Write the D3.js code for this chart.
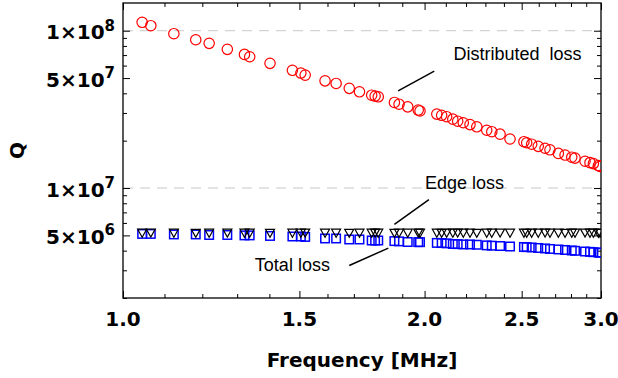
<!DOCTYPE html>
<html><head><meta charset="utf-8">
<script src="https://cdn.jsdelivr.net/npm/d3@7"></script>
<style>body{margin:0;background:#fff}svg{display:block}</style>
</head><body><svg id="c" width="618" height="378"></svg>
<script>
const frequency = [1.045,1.066,1.124,1.182,1.219,1.271,1.322,1.338,1.402,1.476,
  1.505,1.520,1.591,1.632,1.682,1.722,1.771,1.785,1.798,1.866,
  1.886,1.924,1.971,1.979,2.057,2.080,2.104,2.134,2.158,2.186,
  2.220,2.255,2.307,2.334,2.379,2.434,2.513,2.529,2.558,2.597,
  2.638,2.668,2.720,2.762,2.805,2.826,2.892,2.925,2.948,2.982,2.993];
const distributedQ = [1.131e8,1.076e8,9.57e7,8.76e7,8.31e7,7.61e7,7.07e7,6.83e7,6.20e7,5.60e7,
  5.38e7,5.22e7,4.80e7,4.62e7,4.30e7,4.09e7,3.89e7,3.84e7,3.80e7,3.50e7,
  3.41e7,3.28e7,3.13e7,3.09e7,2.95e7,2.90e7,2.84e7,2.74e7,2.66e7,2.60e7,
  2.53e7,2.45e7,2.33e7,2.28e7,2.20e7,2.05e7,1.97e7,1.94e7,1.90e7,1.84e7,
  1.79e7,1.75e7,1.66e7,1.62e7,1.57e7,1.55e7,1.48e7,1.45e7,1.43e7,1.39e7,1.37e7];
const edgeQ = [5.20e6,5.21e6,5.20e6,5.19e6,5.20e6,5.21e6,5.20e6,5.20e6,5.19e6,5.20e6,
  5.20e6,5.21e6,5.20e6,5.20e6,5.19e6,5.20e6,5.20e6,5.21e6,5.20e6,5.19e6,
  5.20e6,5.20e6,5.21e6,5.20e6,5.20e6,5.19e6,5.20e6,5.20e6,5.21e6,5.20e6,
  5.20e6,5.19e6,5.20e6,5.20e6,5.21e6,5.20e6,5.20e6,5.19e6,5.20e6,5.20e6,
  5.21e6,5.20e6,5.20e6,5.19e6,5.20e6,5.20e6,5.21e6,5.20e6,5.20e6,5.19e6,5.20e6];
const totalQ = [5.11e6,5.11e6,5.07e6,5.07e6,5.03e6,5.03e6,5.00e6,5.00e6,4.96e6,4.92e6,
  4.92e6,4.89e6,4.78e6,4.78e6,4.71e6,4.71e6,4.64e6,4.64e6,4.64e6,4.60e6,
  4.58e6,4.54e6,4.53e6,4.53e6,4.48e6,4.47e6,4.45e6,4.41e6,4.40e6,4.38e6,
  4.38e6,4.36e6,4.32e6,4.30e6,4.28e6,4.25e6,4.22e6,4.21e6,4.19e6,4.16e6,
  4.13e6,4.10e6,4.07e6,4.04e6,4.01e6,3.99e6,3.95e6,3.93e6,3.91e6,3.89e6,3.88e6];

const xMajorTicks = [1.0,1.5,2.0,2.5,3.0];
const xMinorTicks = [1.1,1.2,1.3,1.4,1.6,1.7,1.8,1.9,2.1,2.2,2.3,2.4,2.6,2.7,2.8,2.9];
const yMajorTicks = [5e6,1e7,5e7,1e8];
const yTickMantissa = ["5","1","5","1"];
const yTickExponent = ["6","7","7","8"];
const yMinorTicks = [2e6,3e6,4e6,6e6,7e6,8e6,9e6,2e7,3e7,4e7,6e7,7e7,8e7,9e7];
const gridValues = [1e7,1e8];

// annotation anchors in data coordinates (frequency, Q)
const annotationText = ["Distributed  loss","Edge loss","Total loss"];
const annotationTextPos = [[2.137,6.51e7],[2.002,9.81e6],[1.354,2.99e6]];
const annotationLineFrom = [[1.882,4.15e7],[1.866,5.87e6],[1.682,3.22e6]];
const annotationLineTo = [[2.045,5.54e7],[2.020,8.44e6],[1.840,4.15e6]];

const W = 618, H = 378;
const m = {left:123, right:17, top:3, bottom:80};
const x = d3.scaleLog().domain([1,3]).range([m.left, W - m.right]);
const y = d3.scaleLog().domain([2e6,1.5e8]).range([H - m.bottom, m.top]);

const svg = d3.select("#c");
const boldFont = "'DejaVu Sans', sans-serif";
const normFont = "'Liberation Sans', Arial, sans-serif";

// grid lines
svg.append("g").selectAll("line").data(gridValues).join("line")
  .attr("x1", x.range()[0]).attr("x2", x.range()[1])
  .attr("y1", d => y(d)).attr("y2", d => y(d))
  .attr("stroke", "#c8c8c8").attr("stroke-width", 1).attr("stroke-dasharray", "10,7");

// axes ticks (inward)
function tickAxis(axisFn, scale, vals, size, transform) {
  const g = svg.append("g").attr("transform", transform)
    .call(axisFn(scale).tickValues(vals).tickSize(size).tickFormat(""));
  g.select(".domain").remove();
  g.selectAll(".tick line").attr("stroke", "#000").attr("stroke-width", 1);
}
const x0 = x.range()[0], x1 = x.range()[1], yb = y.range()[0], yt = y.range()[1];
tickAxis(d3.axisBottom, x, xMajorTicks, -7, `translate(0,${yb})`);
tickAxis(d3.axisBottom, x, xMinorTicks, -4, `translate(0,${yb})`);
tickAxis(d3.axisTop, x, xMajorTicks, -7, `translate(0,${yt})`);
tickAxis(d3.axisTop, x, xMinorTicks, -4, `translate(0,${yt})`);
tickAxis(d3.axisLeft, y, yMajorTicks, -7, `translate(${x0},0)`);
tickAxis(d3.axisLeft, y, yMinorTicks, -4, `translate(${x0},0)`);
tickAxis(d3.axisRight, y, yMajorTicks, -7, `translate(${x1},0)`);
tickAxis(d3.axisRight, y, yMinorTicks, -4, `translate(${x1},0)`);

// frame
svg.append("rect").attr("x", x0).attr("y", yt).attr("width", x1 - x0).attr("height", yb - yt)
  .attr("fill", "none").attr("stroke", "#000").attr("stroke-width", 1.3);

// x tick labels
svg.append("g").selectAll("text").data(xMajorTicks).join("text")
  .attr("x", d => x(d)).attr("y", yb + 28)
  .attr("text-anchor", "middle")
  .attr("font-family", boldFont).attr("font-weight", "bold").attr("font-size", 20)
  .text(d => d.toFixed(1));

// y tick labels
const yl = svg.append("g").selectAll("text").data(yMajorTicks).join("text")
  .attr("x", x0 - 8).attr("y", d => y(d) + 8.5)
  .attr("text-anchor", "end")
  .attr("font-family", boldFont).attr("font-weight", "bold").attr("font-size", 20);
yl.append("tspan").text((d, i) => yTickMantissa[i] + "\u00d710");
yl.append("tspan").attr("dy", -8.5).attr("font-size", 15).text((d, i) => yTickExponent[i]);

// axis titles
svg.append("text").attr("x", (x0 + x1) / 2).attr("y", 367)
  .attr("text-anchor", "middle").attr("font-family", boldFont).attr("font-weight", "bold")
  .attr("font-size", 20).text("Frequency [MHz]");
svg.append("text").attr("transform", `translate(24,${(yt + yb) / 2}) rotate(-90)`)
  .attr("text-anchor", "middle").attr("font-family", boldFont).attr("font-weight", "bold")
  .attr("font-size", 20).text("Q");

// data
svg.append("defs").append("clipPath").attr("id", "clip")
  .append("rect").attr("x", x0).attr("y", yt).attr("width", x1 - x0).attr("height", yb - yt);
const plot = svg.append("g").attr("clip-path", "url(#clip)");

plot.append("g").selectAll("circle").data(frequency).join("circle")
  .attr("cx", d => x(d)).attr("cy", (d, i) => y(distributedQ[i])).attr("r", 5.2)
  .attr("fill", "none").attr("stroke", "#ff0000").attr("stroke-width", 1.2);

const sq = 8.5;
plot.append("g").selectAll("rect").data(frequency).join("rect")
  .attr("x", d => x(d) - sq / 2).attr("y", (d, i) => y(totalQ[i]) - sq / 2)
  .attr("width", sq).attr("height", sq)
  .attr("fill", "none").attr("stroke", "#0000ff").attr("stroke-width", 1.5);

plot.append("g").selectAll("path").data(frequency).join("path")
  .attr("transform", (d, i) => `translate(${x(d)},${y(edgeQ[i])})`)
  .attr("d", "M-4.5,-3.5L4.5,-3.5L0,4.5Z")
  .attr("fill", "none").attr("stroke", "#000").attr("stroke-width", 1.2);

// annotations
const ann = svg.append("g");
ann.selectAll("line").data(annotationText).join("line")
  .attr("x1", (d, i) => x(annotationLineFrom[i][0])).attr("y1", (d, i) => y(annotationLineFrom[i][1]))
  .attr("x2", (d, i) => x(annotationLineTo[i][0])).attr("y2", (d, i) => y(annotationLineTo[i][1]))
  .attr("stroke", "#000").attr("stroke-width", 1.5);
ann.selectAll("text").data(annotationText).join("text")
  .attr("x", (d, i) => x(annotationTextPos[i][0])).attr("y", (d, i) => y(annotationTextPos[i][1]))
  .attr("font-family", normFont).attr("font-size", 18).attr("fill", "#000")
  .attr("xml:space", "preserve").style("white-space", "pre")
  .text(d => d);
</script>
</body></html>
